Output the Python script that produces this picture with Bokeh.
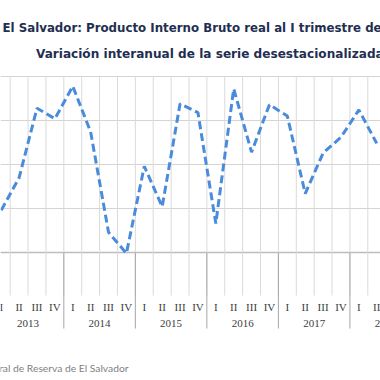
from bokeh.plotting import figure
from bokeh.models import Range1d, Span
from bokeh.core.properties import value
from bokeh.embed import file_html
from bokeh.resources import INLINE

# ---- data ----
years = ["2013", "2014", "2015", "2016", "2017", "2018"]
quarters = ["I", "II", "III", "IV"]
gdp = [1.48, 1.85, 2.64, 2.52,
       2.89, 2.37, 1.23, 0.99,
       1.98, 1.52, 2.69, 2.59,
       1.33, 2.86, 2.14, 2.68,
       2.55, 1.67, 2.13, 2.31,
       2.62, 2.24]
y_ticks = [1.0, 1.5, 2.0, 2.5, 3.0]
title1 = "El Salvador: Producto Interno Bruto real al I trimestre de 2018"
title2 = "Variación interanual de la serie desestacionalizada"
source_txt = "Fuente: Banco Central de Reserva de El Salvador"

# ---- figure ----
p = figure(width=380, height=380, output_backend="svg", toolbar_location=None,
           x_range=Range1d(0.4586, 21.71), y_range=Range1d(-0.4545, 3.8636),
           x_axis_location=None, y_axis_location=None, min_border=0,
           background_fill_color="white", border_fill_color="white")
p.outline_line_color = None
p.xgrid.visible = False
p.ygrid.visible = False

# horizontal gridlines
for t in y_ticks:
    p.add_layout(Span(location=t, dimension="width", line_color="#d4d4d4",
                      line_width=1, level="underlay"))
p.add_layout(Span(location=y_ticks[0], dimension="width", line_color="#bcbcbc",
                  line_width=1.6, level="underlay"))

n_total = len(years) * len(quarters)
bounds = list(range(n_total + 1))
top = y_ticks[-1]
q_line_bottom = 0.511
y_line_bottom = 0.136
p.segment(x0=bounds, x1=bounds, y0=[top] * len(bounds), y1=[q_line_bottom] * len(bounds),
          line_color="#dadada", line_width=1)
ybounds = [i * len(quarters) for i in range(len(years) + 1)]
p.segment(x0=ybounds, x1=ybounds, y0=[y_ticks[0]] * len(ybounds),
          y1=[y_line_bottom] * len(ybounds), line_color="#a6a6a6", line_width=1)

# series
xs = [i + 0.5 for i in range(len(gdp))]
p.line(xs, gdp, line_color="#4a8bdb", line_width=3, line_dash="8 4")

# quarter labels
q_x = [i + 0.5 for i in range(n_total)]
q_t = [quarters[i % len(quarters)] for i in range(n_total)]
p.text(x=q_x, y=[0.386] * n_total, text=q_t, text_align="center", text_baseline="middle",
       text_font=value("Liberation Serif"), text_font_size="11px", text_color="#404040")
# year labels
yr_x = [i * len(quarters) + len(quarters) / 2 for i in range(len(years))]
p.text(x=yr_x, y=[0.193] * len(years), text=years, text_align="center", text_baseline="middle",
       text_font=value("Liberation Serif"), text_font_size="11px", text_color="#404040")

# titles
p.text(x=[0.5705], y=[3.55], text=[title1], text_align="left", text_baseline="middle",
       text_font=value("DejaVu Sans"), text_font_style="bold", text_font_size="11.8px",
       text_color="#1f2f52")
p.text(x=[2.44], y=[3.258], text=[title2], text_align="left", text_baseline="middle",
       text_font=value("DejaVu Sans"), text_font_style="bold", text_font_size="12.1px",
       text_color="#1f2f52")

# source
p.text(x=[7.619], y=[-0.31], text=[source_txt], text_align="right", text_baseline="middle",
       text_font=value("Lato"), text_font_size="10.3px", text_color="#7f7f7f")

open("out.html", "w").write(file_html(p, INLINE))
